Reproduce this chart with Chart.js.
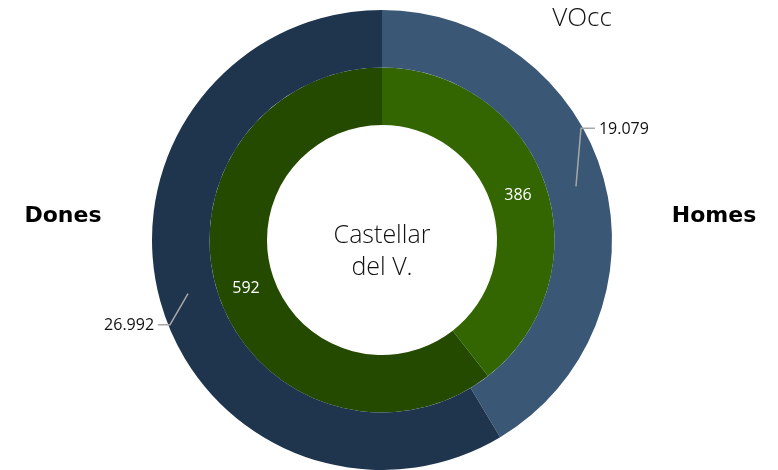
<!DOCTYPE html>
<html>
<head>
<meta charset="utf-8">
<script src="https://cdn.jsdelivr.net/npm/chart.js@4/dist/chart.umd.min.js"></script>
<style>
  html, body { margin: 0; padding: 0; background: #fff; }
  #wrap { width: 778px; height: 470px; position: relative; }
</style>
</head>
<body>
<div id="wrap"><canvas id="graficoVOcc" width="778" height="470"></canvas></div>
<script>
    const categorias = ['Homes', 'Dones'];
    const valoresExterior = [19079, 26992];
    const valoresInterior = [386, 592];
    const etiquetasExterior = ['19.079', '26.992'];
    const etiquetasInterior = ['386', '592'];

    const coresExterior = ['#3a5775', '#1f344d'];
    const coresInterior = ['#336600', '#244a00'];

    // textos fixos + rotulos das fatias
    const textosPlugin = {
        id: 'textos',
        afterDatasetsDraw(chart) {
            const ctx = chart.ctx;
            const cx = 382, cy = 240;
            ctx.save();
            ctx.textBaseline = 'middle';

            ctx.fillStyle = '#111';
            ctx.textAlign = 'center';
            ctx.font = '300 26px "Open Sans"';
            ctx.fillText('VOcc', 582, 19);
            ctx.font = '300 25px "Open Sans"';
            ctx.fillText('Castellar', cx, 236);
            ctx.fillText('del V.', cx, 268);

            ctx.fillStyle = '#000';
            ctx.font = 'bold 22px "DejaVu Sans"';
            ctx.fillText('Dones', 63, 216);
            ctx.fillText('Homes', 714, 216);

            // rotulos anel interior
            const metaIn = chart.getDatasetMeta(1);
            ctx.fillStyle = '#fff';
            ctx.font = '16px "Open Sans"';
            metaIn.data.forEach((arc, i) => {
                const p = arc.getCenterPoint();
                ctx.fillText(etiquetasInterior[i], p.x, p.y + 2);
            });

            // rotulos anel exterior com linha guia
            const metaOut = chart.getDatasetMeta(0);
            const guias = [[5, -58, 14], [-18, 31, -12]];
            metaOut.data.forEach((arc, i) => {
                const p = arc.getCenterPoint();
                const [dx, dy, hx] = guias[i];
                ctx.strokeStyle = '#a6a6a6';
                ctx.lineWidth = 1.5;
                ctx.beginPath();
                ctx.moveTo(p.x, p.y);
                ctx.lineTo(p.x + dx, p.y + dy);
                ctx.lineTo(p.x + dx + hx, p.y + dy);
                ctx.stroke();
                ctx.fillStyle = '#111';
                ctx.textAlign = hx > 0 ? 'left' : 'right';
                ctx.fillText(etiquetasExterior[i], p.x + dx + hx + (hx > 0 ? 4 : -4), p.y + dy + 1);
            });
            ctx.restore();
        }
    };

    new Chart(document.getElementById('graficoVOcc'), {
        type: 'doughnut',
        data: {
            labels: categorias,
            datasets: [
                { data: valoresExterior, backgroundColor: coresExterior, borderWidth: 0, hoverBorderWidth: 0, hoverOffset: 0 },
                { data: valoresInterior, backgroundColor: coresInterior, borderWidth: 0, hoverBorderWidth: 0, hoverOffset: 0 }
            ]
        },
        options: {
            responsive: false,
            animation: false,
            cutout: '50%',
            layout: { padding: { left: 152, right: 166, top: 10, bottom: 0 } },
            plugins: {
                legend: { display: false },
                tooltip: { enabled: false }
            }
        },
        plugins: [textosPlugin]
    });
</script>
</body>
</html>
